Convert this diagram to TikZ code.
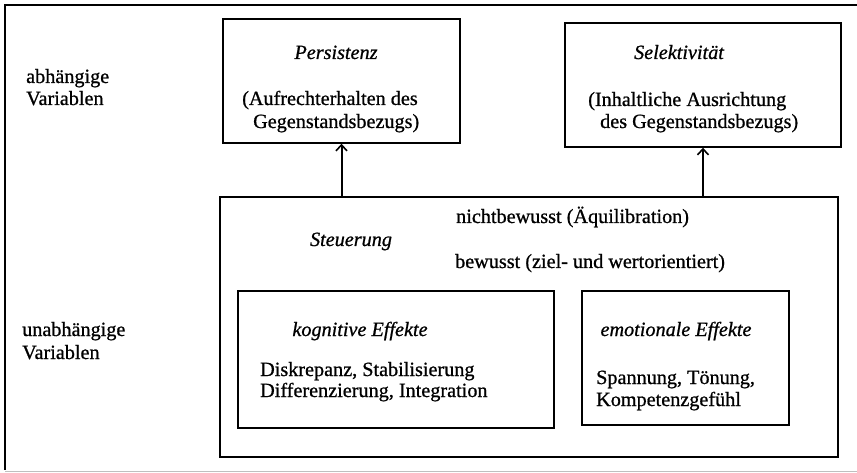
\documentclass[tikz,border=0pt]{standalone}
\usepackage{fontspec}
\setmainfont{Liberation Serif}[RawFeature={embolden=0.8}]
\usetikzlibrary{arrows.meta}
\begin{document}
\begin{tikzpicture}[x=1pt,y=-1pt,
  box/.style={draw, line width=1.4pt, inner sep=0pt},
  txt/.style={inner sep=0pt, font=\fontsize{20.2}{21}\selectfont},
  lt/.style={txt, anchor=base west},
  ct/.style={txt, anchor=base, font=\fontsize{20.2}{21}\selectfont\itshape},
  arr/.style={line width=2pt, -{Straight Barb[length=6pt,width=11pt,line width=1.6pt]}}]
\useasboundingbox (0,0) rectangle (857,473);
% outer frame
\draw[line width=1.4pt] (857,5) -- (5,5) -- (5,470);
\draw[line width=1pt, black!25] (5,471) -- (857,471);
% boxes
\node[box, minimum width=237pt, minimum height=124pt] (pers) at (341.5,81) {};
\node[box, minimum width=276pt, minimum height=124pt] (sel) at (703,85) {};
\node[box, minimum width=618pt, minimum height=260pt] (steu) at (529,327) {};
\node[box, minimum width=316pt, minimum height=137pt] (kog) at (396,359.5) {};
\node[box, minimum width=207pt, minimum height=134pt] (emo) at (685.5,358) {};
% arrows
\draw[arr] (steu.north -| pers.south) -- (pers.south);
\draw[arr] (steu.north -| sel.south) -- (sel.south);
% left labels
\node[lt] (a1) at (26,83) {abhängige};
\node[lt] (a2) at (26,105) {Variablen};
\node[lt] (u1) at (22,336) {unabhängige};
\node[lt] (u2) at (22,359) {Variablen};
% Persistenz
\node[ct] (pt) at (336,59) {Persistenz};
\node[lt] (p1) at (242,105) {(Aufrechterhalten des};
\node[lt] (p2) at (253,128) {Gegenstandsbezugs)};
% Selektivitaet
\node[ct] (st) at (679,59) {Selektivität};
\node[lt] (s1) at (588,106) {(Inhaltliche Ausrichtung};
\node[lt] (s2) at (600,128) {des Gegenstandsbezugs)};
% Steuerung
\node[lt] (nb) at (456,223) {nichtbewusst (Äquilibration)};
\node[ct] (sg) at (351,246) {Steuerung};
\node[lt] (bw) at (455,268) {bewusst (ziel- und wertorientiert)};
% kognitive
\node[ct] (kt) at (360,336) {kognitive Effekte};
\node[lt] (k1) at (260,376) {Diskrepanz, Stabilisierung};
\node[lt] (k2) at (260,397) {Differenzierung, Integration};
% emotionale
\node[ct] (et) at (676,336) {emotionale Effekte};
\node[lt] (e1) at (596,384) {Spannung, Tönung,};
\node[lt] (e2) at (596,406) {Kompetenzgefühl};
\end{tikzpicture}
\end{document}
